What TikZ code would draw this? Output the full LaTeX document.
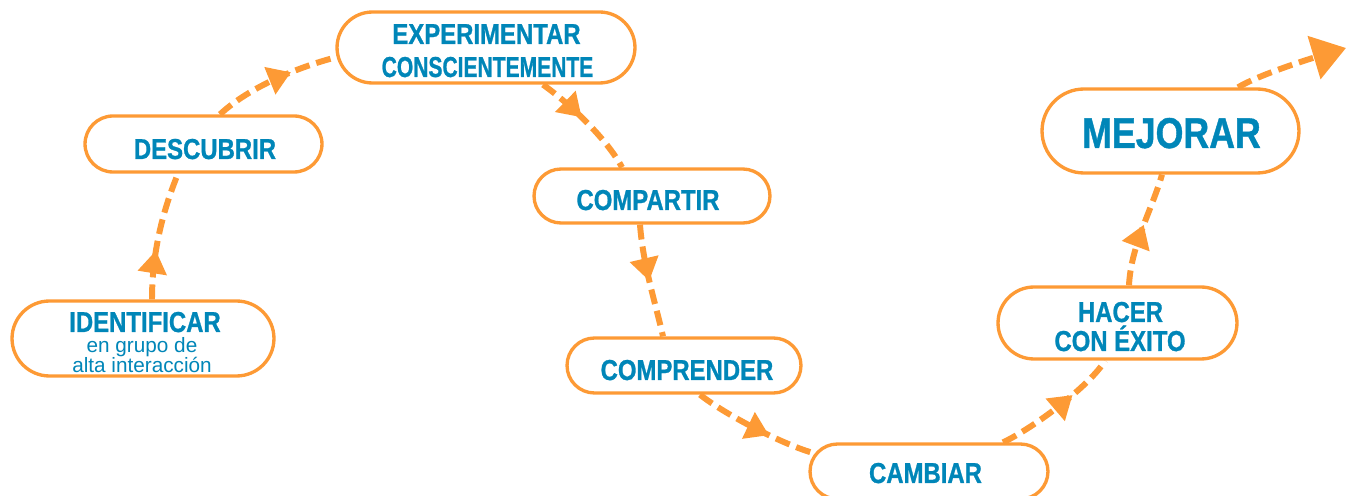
\documentclass[tikz,border=0pt]{standalone}
\usepackage{fontspec}
\setmainfont{Liberation Sans}
\newfontfamily\hdfont{Liberation Sans}[FakeStretch=0.83,FakeBold=0.9]
\usetikzlibrary{shapes.misc,arrows.meta,decorations.markings}
\definecolor{org}{RGB}{253,154,53}
\definecolor{blu}{RGB}{0,134,184}
\begin{document}
\begin{tikzpicture}[x=0.02cm,y=-0.02cm,
  box/.style={rounded rectangle, draw=org, line width=1.9pt, fill=white, inner sep=0pt},
  hd/.style={text=blu, font=\hdfont\bfseries\fontsize{16.4}{18}\selectfont, anchor=base, inner sep=0pt},
  big/.style={text=blu, font=\hdfont\bfseries\fontsize{24.5}{26}\selectfont, anchor=base, inner sep=0pt},
  sm/.style={text=blu, font=\fontsize{11.8}{12}\selectfont, anchor=base, inner sep=0pt},
  conn/.style={draw=org, color=org, line width=3.4pt, dash pattern=on 8.5pt off 4pt},
  mid/.style={postaction={decorate,decoration={markings,mark=at position #1 with {\arrow{Triangle[width=16pt,length=13pt]}}}}}
]
\useasboundingbox (0,0) rectangle (1347,496);
\clip (0,0) rectangle (1347,496);
% boxes
\node[box, minimum width=5.24cm, minimum height=1.50cm] (b1) at (143,338.5) {};
\node[box, minimum width=4.74cm, minimum height=1.12cm] (b2) at (203.5,144) {};
\node[box, minimum width=5.96cm, minimum height=1.42cm] (b3) at (486,47.5) {};
\node[box, minimum width=4.72cm, minimum height=1.08cm] (b4) at (652,196) {};
\node[box, minimum width=4.68cm, minimum height=1.10cm] (b5) at (684,365.5) {};
\node[box, minimum width=4.76cm, minimum height=1.10cm] (b6) at (929,471.5) {};
\node[box, minimum width=4.78cm, minimum height=1.44cm] (b7) at (1117.5,323) {};
\node[box, minimum width=5.14cm, minimum height=1.68cm] (b8) at (1170.5,131) {};
\coordinate (e) at (1346,48);
% texts
\node[hd] (t1) at (145,332) {IDENTIFICAR};
\node[sm] (t1b) at (142,353) {en grupo de};
\node[sm] (t1c) at (142,373) {alta interacción};
\node[hd] (t2) at (205,159) {DESCUBRIR};
\node[hd] (t3) at (486.5,44) {EXPERIMENTAR};
\node[hd] (t3b) at (487.5,77) {\scalebox{0.88}[1]{CONSCIENTEMENTE}};
\node[hd] (t4) at (648,210) {COMPARTIR};
\node[hd] (t5) at (687,380) {COMPRENDER};
\node[hd] (t6) at (925.5,483) {CAMBIAR};
\node[hd] (t7) at (1120.5,322) {HACER};
\node[hd] (t7b) at (1120,351) {CON ÉXITO};
\node[big] (t8) at (1171.5,148) {MEJORAR};
% connectors
\draw[conn, mid=0.38] ([xshift=0.18cm]b1.north) .. controls +(0,-45) and +(-16,39) .. ([xshift=-0.51cm]b2.south);
\draw[conn, mid=0.64] ([xshift=0.33cm]b2.north) .. controls +(30,-28) and +(-35,9) .. ([yshift=-0.2cm]b3.west);
\draw[conn, mid=0.44] ([xshift=1.14cm]b3.south) .. controls +(28,20) and +(-15,-28) .. ([xshift=-0.6cm]b4.north);
\draw[conn, mid=0.5] ([xshift=-0.24cm]b4.south) .. controls +(3,40) and +(-8,-35) .. ([xshift=-0.42cm]b5.north);
\draw[conn, mid=0.62] ([xshift=0.32cm]b5.south) .. controls +(25,20) and +(-30,-8) .. (b6.171);
\draw[conn, mid=0.64] ([xshift=1.48cm]b6.north) .. controls +(30,-14) and +(-15,25) .. ([xshift=-0.25cm]b7.south);
\draw[conn, mid=0.54] ([xshift=0.23cm]b7.north) .. controls +(2,-40) and +(-10,35) .. ([xshift=-0.17cm]b8.south);
\draw[conn, -{Triangle[width=25pt,length=19pt]}] ([xshift=1.35cm]b8.north) .. controls +(20,-12) and +(-40,12) .. (e);
\end{tikzpicture}
\end{document}
